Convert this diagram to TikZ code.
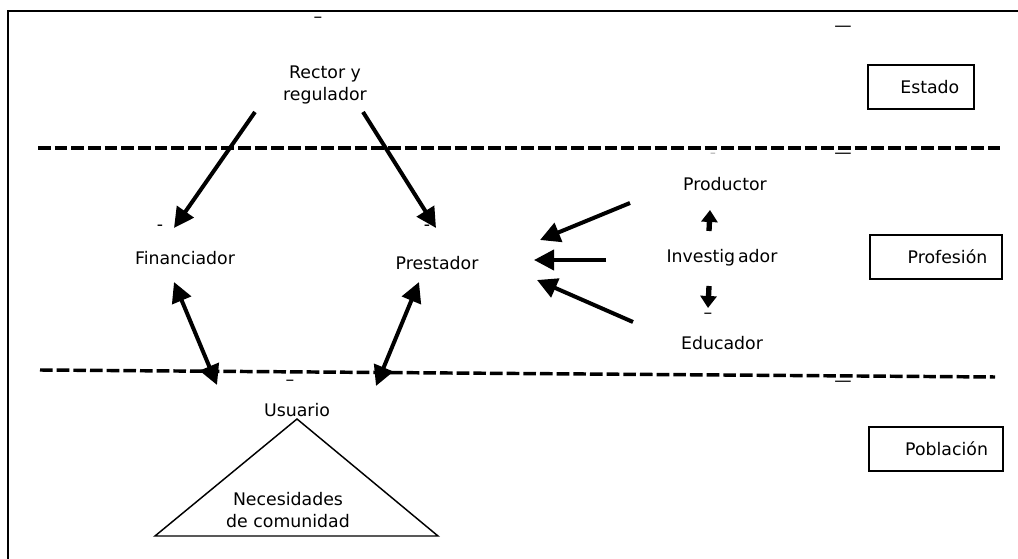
\documentclass[tikz,border=0pt]{standalone}
\usepackage{fontspec}
\setmainfont{DejaVu Sans}
\usetikzlibrary{arrows.meta,calc}

\begin{document}
\begin{tikzpicture}[x=0.75pt,y=-0.75pt,
  every node/.style={font=\fontsize{13pt}{16.5pt}\selectfont,inner sep=1pt},
  role/.style={align=center},
  sector/.style={draw,line width=1.5pt,minimum height=33pt,inner xsep=11pt,align=right},
  tick/.style={inner sep=0pt},
  band/.style={line width=2.6pt,dash pattern=on 9.5pt off 3pt},
  flow/.style={line width=3pt,-{Triangle[length=15pt,width=15pt]}},
  both/.style={line width=3pt,{Triangle[length=15pt,width=15pt]}-{Triangle[length=15pt,width=15pt]}},
  small/.style={line width=4pt,-{Triangle[length=9pt,width=12pt]}}]
\useasboundingbox (0,0) rectangle (1018,559);
% marco
\draw[line width=1.5pt] (8,559) -- (8,11) -- (1018,11);
% franjas
\draw[band] (38,148) -- (1000,148);
\draw[band] (40,370) -- (995,377);
% sectores
\node[sector,text width=57.5pt] (estado) at (921,87) {Estado};
\node[sector,text width=77pt] (profesion) at (936,257) {Profesión};
\node[sector,text width=78pt] (poblacion) at (936,449) {Población};
% roles
\node[role] (rector) at (325,85) {Rector y\\regulador};
\node[role] (fin) at (185,258) {Financiador};
\node[role] (pres) at (437,263) {Prestador};
\node[role] (prod) at (725,184) {Productor};
\node[role] (inv) at (722,258) {Investig\,ador};
\node[role] (edu) at (722,343) {Educador};
\node[role] (usu) at (297,410) {Usuario};
\node[role] (nec) at (288,510) {Necesidades\\de comunidad};
\draw[line width=1.1pt] (297,419) -- (438,536) -- (155,536) -- cycle;
% marcas sueltas
\foreach \x/\y/\t [count=\i] in {318/20/\textendash,843/29/\textemdash,843/156/\textemdash,
  843/384/\textemdash,160/228/-,427/228/-,708/316/\textendash,290/383/\textendash}
  \node[tick] (tick\i) at (\x,\y) {\t};
\node[tick,gray!50] (tick9) at (713,156) {-};
% flechas
\draw[flow] ($(rector)+(-70,27)$) -- ($(fin)+(-11,-30)$);
\draw[flow] ($(rector)+(38,27)$) -- ($(pres)+(-1,-35)$);
\draw[both] ($(fin)+(-11,24)$) -- ($(usu)+(-80,-25)$);
\draw[both] ($(pres)+(-18,19)$) -- ($(usu)+(79,-24)$);
\draw[flow] ($(prod)+(-95,19)$) -- ($(pres)+(103,-23)$);
\draw[flow] ($(inv)+(-116,2)$) -- ($(pres)+(97,-3)$);
\draw[flow] ($(edu)+(-89,-21)$) -- ($(pres)+(100,17)$);
\draw[small] ($(inv)+(-13,-27)$) -- ($(prod)+(-15,26)$);
\draw[small] ($(inv)+(-13,28)$) -- ($(edu)+(-14,-35)$);
\end{tikzpicture}
\end{document}
